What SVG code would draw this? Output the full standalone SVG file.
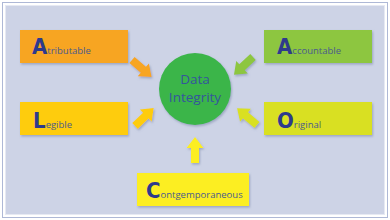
<svg xmlns="http://www.w3.org/2000/svg" width="390" height="220" viewBox="0 0 390 220">
<style>
.box{filter:url(#sh)}
.t{font-family:"Open Sans","Noto Sans",sans-serif;font-size:9.5px;fill:#4a5a8e}
.big{font-family:"DejaVu Sans Condensed","DejaVu Sans",sans-serif;font-weight:bold;font-size:22px;fill:#2e3a8c}
.ct{font-family:"Open Sans","Noto Sans",sans-serif;font-size:13.5px;fill:#34559c;text-anchor:middle}
</style>
<defs>
<filter id="sh" x="-20%" y="-20%" width="140%" height="150%">
<feDropShadow dx="1" dy="1.5" stdDeviation="1" flood-color="#7a86a8" flood-opacity="0.6"/>
</filter>
<path id="arr" d="M0,-4 L15,-4 L15,-8.5 L26,0 L15,8.5 L15,4 L0,4 Z"/>
</defs>
<rect x="2.5" y="2.5" width="385" height="215" fill="#ffffff" stroke="#aeb8d6"/>
<rect x="5.5" y="5.5" width="379" height="209" fill="#cdd3e6" stroke="#e6e9f3"/>
<g id="connectors" filter="url(#sh)">
<use href="#arr" fill="#f7a520" transform="translate(132,60) rotate(41)"/>
<use href="#arr" fill="#8dc63f" transform="translate(253,57) rotate(137)"/>
<use href="#arr" fill="#fecc0f" transform="translate(135,126) rotate(-44)"/>
<use href="#arr" fill="#d9e021" transform="translate(257,125) rotate(-140)"/>
<use href="#arr" fill="#fcee21" transform="translate(195,163) rotate(-90)"/>
</g>
<g id="center">
<circle cx="195" cy="89" r="36" fill="#3ab54a" class="box"/>
<text class="ct" x="195" y="84">Data</text>
<text class="ct" x="195" y="102">Integrity</text>
</g>
<g id="attributable">
<rect class="box" x="20" y="30" width="108" height="33" fill="#f7a520"/>
<text class="t" x="32" y="54"><tspan class="big">A</tspan>tributable</text>
</g>
<g id="accountable">
<rect class="box" x="264" y="30" width="108" height="33" fill="#8dc63f"/>
<text class="t" x="277" y="54"><tspan class="big">A</tspan>ccountable</text>
</g>
<g id="legible">
<rect class="box" x="20" y="102" width="108" height="33" fill="#fecc0f"/>
<text class="t" x="33" y="128"><tspan class="big">L</tspan>egible</text>
</g>
<g id="original">
<rect class="box" x="264" y="102" width="108" height="33" fill="#d9e021"/>
<text class="t" x="277" y="128"><tspan class="big">O</tspan>riginal</text>
</g>
<g id="contemporaneous">
<rect class="box" x="137" y="173" width="112" height="33" fill="#fcee21"/>
<text class="t" x="146" y="198"><tspan class="big">C</tspan>ontgemporaneous</text>
</g>
</svg>
